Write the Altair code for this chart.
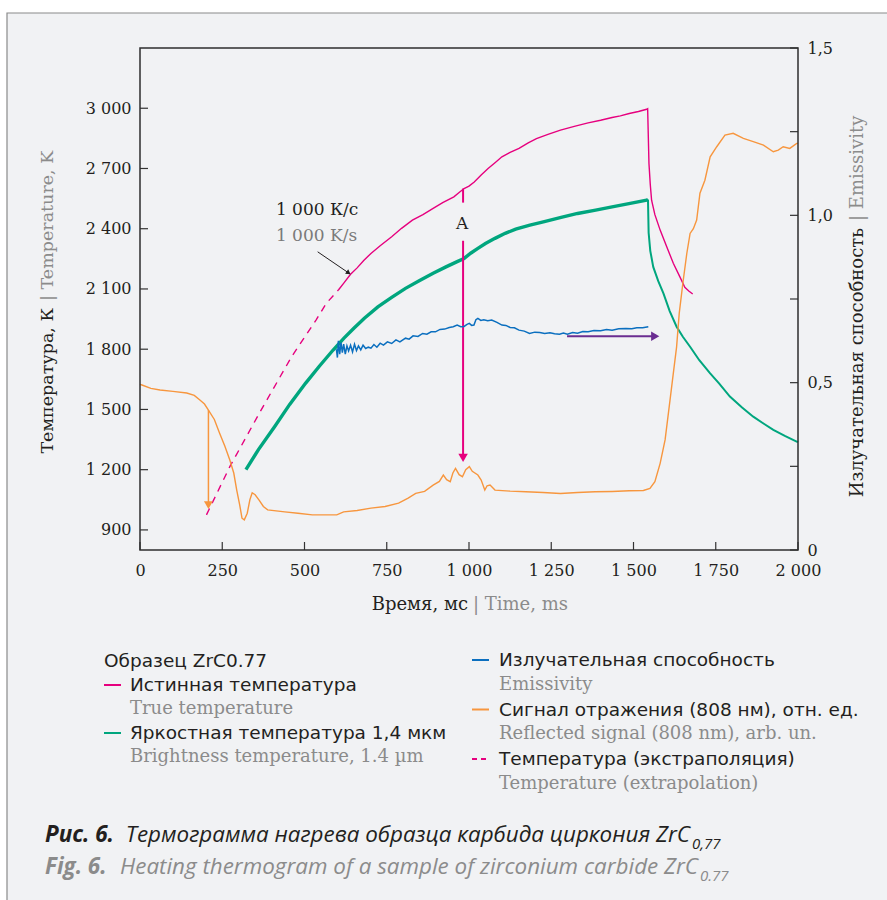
import altair as alt
import pandas as pd

# ---------------- values ----------------
X_TICKS = [0, 250, 500, 750, 1000, 1250, 1500, 1750, 2000]
YL_TICKS = [900, 1200, 1500, 1800, 2100, 2400, 2700, 3000]
YR_TICKS = [0, 0.25, 0.5, 0.75, 1.0, 1.25, 1.5]
YR_LABELED = [0, 0.5, 1.0, 1.5]

# true temperature (K) vs time (ms)
TRUE_TEMP = [(603, 2095), (620, 2130), (640, 2173), (660, 2205), (680, 2242), (702, 2277),
             (730, 2315), (765, 2360), (795, 2402), (828, 2443), (860, 2470), (891, 2501),
             (920, 2530), (954, 2559), (970, 2580), (985, 2600), (1000, 2612), (1016, 2633),
             (1037, 2668), (1058, 2700), (1080, 2730), (1100, 2758), (1125, 2780), (1152, 2800),
             (1180, 2828), (1205, 2849), (1240, 2870), (1278, 2891), (1320, 2910), (1362, 2927),
             (1400, 2940), (1435, 2954), (1460, 2962), (1487, 2974), (1515, 2984), (1540, 2995),
             (1543, 2998), (1545, 2860), (1547, 2725), (1551, 2620), (1555, 2542), (1565, 2470),
             (1581, 2393), (1601, 2310), (1621, 2228), (1641, 2160), (1656, 2108), (1668, 2090),
             (1680, 2075)]

# extrapolated temperature (dashed)
EXTRAP_TEMP = [(202, 975), (273, 1215), (368, 1497), (461, 1763), (535, 1945), (566, 2028), (603, 2095)]

# brightness temperature 1.4 um: heating part (thick, noisy) and cooling part
BRIGHT_RISE = [(322, 1200), (360, 1300), (409, 1414), (455, 1525), (503, 1630), (545, 1715),
               (587, 1796), (620, 1855), (650, 1904), (682, 1954), (723, 2011), (765, 2058),
               (807, 2103), (850, 2142), (891, 2178), (930, 2210), (964, 2236), (985, 2252),
               (1005, 2278), (1027, 2302), (1050, 2326), (1079, 2352), (1110, 2377), (1142, 2398),
               (1185, 2418), (1226, 2434), (1280, 2456), (1330, 2476), (1385, 2493), (1435, 2509),
               (1490, 2526), (1540, 2542), (1544, 2545)]
BRIGHT_DECAY = [(1544, 2545), (1546, 2380), (1551, 2290), (1560, 2210),
                (1575, 2140), (1591, 2078), (1610, 1990), (1631, 1912), (1650, 1862), (1672, 1812),
                (1700, 1745), (1733, 1680), (1760, 1630), (1793, 1564), (1830, 1510), (1864, 1464),
                (1895, 1430), (1925, 1398), (1960, 1368), (1996, 1340), (2000, 1337)]

# emissivity (right axis)
EMISSIVITY = [(597, 0.60), (600, 0.575), (603, 0.625), (607, 0.585), (611, 0.62), (615, 0.59),
              (619, 0.615), (624, 0.585), (629, 0.61), (634, 0.595), (640, 0.612), (646, 0.592),
              (652, 0.615), (658, 0.596), (664, 0.61), (671, 0.598), (678, 0.612), (686, 0.602),
              (694, 0.606), (702, 0.603), (711, 0.614), (720, 0.606), (730, 0.618), (740, 0.612),
              (752, 0.622), (765, 0.617), (778, 0.628), (790, 0.622), (807, 0.633), (818, 0.63),
              (830, 0.64), (845, 0.638), (859, 0.647), (872, 0.645), (885, 0.652), (898, 0.652),
              (912, 0.659), (926, 0.66), (940, 0.665), (952, 0.667), (964, 0.672), (975, 0.667),
              (985, 0.668), (994, 0.674), (1001, 0.677), (1008, 0.671), (1015, 0.672), (1021, 0.688),
              (1027, 0.692), (1036, 0.686), (1045, 0.688), (1057, 0.685), (1069, 0.687), (1085, 0.68),
              (1100, 0.672), (1112, 0.671), (1125, 0.665), (1138, 0.664), (1152, 0.657), (1168, 0.654),
              (1184, 0.647), (1200, 0.651), (1215, 0.65), (1230, 0.647), (1246, 0.649), (1260, 0.646),
              (1275, 0.645), (1287, 0.648), (1299, 0.645), (1315, 0.65), (1330, 0.648), (1346, 0.653),
              (1362, 0.652), (1380, 0.656), (1400, 0.655), (1418, 0.659), (1435, 0.657), (1455, 0.661),
              (1477, 0.662), (1495, 0.661), (1510, 0.664), (1528, 0.664), (1545, 0.667)]

# reflected signal 808 nm, arb. units (right axis scale)
REFLECTED = [(0, 0.495), (6, 0.493), (33, 0.483), (61, 0.478), (100, 0.474), (142, 0.469),
             (165, 0.462), (182, 0.448), (196, 0.436), (208, 0.418), (226, 0.39), (242, 0.349),
             (258, 0.31), (273, 0.269), (285, 0.23), (294, 0.179), (303, 0.135), (310, 0.095),
             (317, 0.09), (326, 0.11), (334, 0.15), (341, 0.171), (350, 0.165), (362, 0.149),
             (375, 0.13), (388, 0.12), (440, 0.114), (480, 0.11), (524, 0.105), (560, 0.105),
             (598, 0.105), (619, 0.114), (660, 0.118), (702, 0.125), (745, 0.13), (786, 0.14),
             (815, 0.155), (838, 0.169), (865, 0.175), (891, 0.194), (910, 0.205), (922, 0.224),
             (932, 0.21), (943, 0.204), (951, 0.23), (959, 0.244), (970, 0.225), (980, 0.219),
             (990, 0.24), (1001, 0.249), (1010, 0.235), (1027, 0.224), (1037, 0.209), (1048, 0.179),
             (1055, 0.192), (1064, 0.194), (1079, 0.179), (1125, 0.176), (1173, 0.174), (1225, 0.172),
             (1278, 0.169), (1330, 0.172), (1383, 0.174), (1435, 0.175), (1487, 0.177), (1530, 0.178),
             (1550, 0.184), (1565, 0.204), (1581, 0.259), (1596, 0.329), (1611, 0.448), (1621, 0.528),
             (1631, 0.607), (1639, 0.707), (1650, 0.797), (1662, 0.886), (1672, 0.946), (1682, 0.96),
             (1692, 0.986), (1702, 1.066), (1717, 1.105), (1733, 1.175), (1753, 1.205), (1778, 1.24),
             (1803, 1.245), (1834, 1.23), (1864, 1.22), (1895, 1.21), (1925, 1.19), (1940, 1.195),
             (1955, 1.205), (1975, 1.2), (1996, 1.215), (2000, 1.215)]

# annotation arrows (data coordinates)
ARROW_A_TIME = 982
ARROW_A_SEGMENTS = [(2600, 2530), (2340, 1259)]   # K, gap around the letter "A"
ARROW_A_HEAD = 1259
ORANGE_ARROW = (208, 0.418, 0.134)               # time, from, head
PURPLE_ARROW = (0.639, 1298, 1566)               # level, from time, head time
RATE_ARROW = (540, 2285, 634, 2180)              # t0, T0, t1, T1

TEXT_A = (979, 2423, "A")
RATE_LABELS = [(413, 2495, "1 000 К/с", "ink"), (413, 2365, "1 000 K/s", "grey")]

LEGEND_TITLE = "Образец ZrC0.77"
LEGEND_LEFT = [("Истинная температура", "True temperature", "pink", "solid"),
               ("Яркостная температура 1,4 мкм", "Brightness temperature, 1.4 µm", "green", "solid")]
LEGEND_RIGHT = [("Излучательная способность", "Emissivity", "blue", "solid"),
                ("Сигнал отражения (808 нм), отн. ед.", "Reflected signal (808 nm), arb. un.", "orange", "solid"),
                ("Температура (экстраполяция)", "Temperature (extrapolation)", "pink", "dash")]

X_TITLE = ("Время, мс", "| Time, ms")
YL_TITLE = ("Температура, К", "| Temperature, K")
YR_TITLE = ("Излучательная способность", "| Emissivity")
CAPTION_RU = ("Рис. 6.", "Термограмма нагрева образца карбида циркония ZrC", "0,77")
CAPTION_EN = ("Fig. 6.", "Heating thermogram of a sample of zirconium carbide ZrC", "0.77")

# ---------------- styling ----------------
SERIF = "DejaVu Serif"
SANS = "DejaVu Sans"
CAPF = "Open Sans"
INK = "#231f20"
GREY = "#8b8b8b"
COL = {"pink": "#e6007e", "green": "#00a67e", "blue": "#0b6fbf", "orange": "#f7963e",
       "purple": "#6a2d91", "ink": INK, "grey": GREY}

W, H = 658, 502
OX, OY = 140, 48


def px(x):
    return x - OX


def py(y):
    return y - OY


ONE = pd.DataFrame({"k": [0]})

x_scale = alt.Scale(domain=[0, 2000], nice=False, zero=False)
yl_scale = alt.Scale(domain=[800, 3300], nice=False, zero=False)
yr_scale = alt.Scale(domain=[0, 1.5], nice=False, zero=False)

common = dict(ticks=False, domain=False, grid=False, title=None, labelFont=SERIF,
              labelFontSize=16, labelColor=INK, zindex=1)
x_axis = alt.Axis(values=X_TICKS, labelExpr="replace(format(datum.value, ','), ',', ' ')",
                  labelPadding=12, labelFlush=False, labelOverlap=False, **common)
yl_axis = alt.Axis(values=YL_TICKS, labelExpr="replace(format(datum.value, ','), ',', ' ')",
                   labelPadding=9, orient="left", **common)
yr_axis = alt.Axis(values=YR_LABELED,
                   labelExpr="datum.value == 0 ? '0' : replace(format(datum.value, '.1f'), '.', ',')",
                   labelPadding=9, orient="right", **common)

X = alt.X("t:Q", scale=x_scale, axis=x_axis)
YL = alt.Y("v:Q", scale=yl_scale, axis=yl_axis)
YR = alt.Y("v:Q", scale=yr_scale, axis=yr_axis)


def frame(pairs):
    return pd.DataFrame(pairs, columns=["t", "v"])


# ---------------- left (temperature) layers ----------------
true_line = alt.Chart(frame(TRUE_TEMP)).mark_line(color=COL["pink"], strokeWidth=1.4).encode(x=X, y=YL)
extrap_line = alt.Chart(frame(EXTRAP_TEMP)).mark_line(
    color=COL["pink"], strokeWidth=1.4, strokeDash=[7, 6]).encode(x=X, y=YL)
bright_rise = alt.Chart(frame(BRIGHT_RISE)).mark_line(color=COL["green"], strokeWidth=3.4).encode(x=X, y=YL)
bright_decay = alt.Chart(frame(BRIGHT_DECAY)).mark_line(color=COL["green"], strokeWidth=2).encode(x=X, y=YL)

a_seg = pd.DataFrame([(ARROW_A_TIME, a, b) for a, b in ARROW_A_SEGMENTS], columns=["t", "v", "v2"])
a_rules = alt.Chart(a_seg).mark_rule(color=COL["pink"], strokeWidth=2).encode(x=X, y=YL, y2="v2:Q")
a_head = alt.Chart(frame([(ARROW_A_TIME, ARROW_A_HEAD)])).mark_point(
    shape="triangle-down", filled=True, size=90, color=COL["pink"], opacity=1).encode(x=X, y=YL)
a_text = alt.Chart(pd.DataFrame([TEXT_A], columns=["t", "v", "s"])).mark_text(
    font=SERIF, fontSize=17, color=INK).encode(x=X, y=YL, text="s:N")

rate_df = pd.DataFrame(RATE_LABELS, columns=["t", "v", "s", "c"])
rate_text = alt.Chart(rate_df).mark_text(font=SERIF, fontSize=17, align="left").encode(
    x=X, y=YL, text="s:N",
    color=alt.Color("c:N", scale=alt.Scale(domain=["ink", "grey"], range=[INK, "#7a7a7a"]), legend=None))
rate_arrow_df = pd.DataFrame([RATE_ARROW], columns=["t", "v", "t2", "v2"])
rate_rule = alt.Chart(rate_arrow_df).mark_rule(color=INK, strokeWidth=1).encode(x=X, y=YL, x2="t2:Q", y2="v2:Q")
rate_head = alt.Chart(frame([(RATE_ARROW[2], RATE_ARROW[3])])).mark_point(
    shape="triangle-right", filled=True, size=30, angle=35, color=INK, opacity=1).encode(x=X, y=YL)

left_ticks = alt.Chart(pd.DataFrame({"v": YL_TICKS})).mark_rule(color="#333", strokeWidth=1.2).encode(
    y=YL, x=alt.value(0), x2=alt.value(8))
bottom_ticks = alt.Chart(pd.DataFrame({"t": X_TICKS})).mark_rule(color="#333", strokeWidth=1.2).encode(
    x=X, y=alt.value(H - 8), y2=alt.value(H))

left = alt.layer(extrap_line, bright_rise, bright_decay, true_line, a_rules, a_head, a_text, rate_text,
                 rate_rule, rate_head, left_ticks, bottom_ticks)

# ---------------- right (emissivity scale) layers ----------------
refl_line = alt.Chart(frame(REFLECTED)).mark_line(color=COL["orange"], strokeWidth=1.4).encode(x=X, y=YR)
emis_line = alt.Chart(frame(EMISSIVITY)).mark_line(color=COL["blue"], strokeWidth=1.5).encode(x=X, y=YR)
o_rule = alt.Chart(pd.DataFrame([ORANGE_ARROW], columns=["t", "v", "v2"])).mark_rule(
    color=COL["orange"], strokeWidth=1.5).encode(x=X, y=YR, y2="v2:Q")
o_head = alt.Chart(frame([(ORANGE_ARROW[0], ORANGE_ARROW[2])])).mark_point(
    shape="triangle-down", filled=True, size=80, color=COL["orange"], opacity=1).encode(x=X, y=YR)
p_rule = alt.Chart(pd.DataFrame([(PURPLE_ARROW[1], PURPLE_ARROW[0], PURPLE_ARROW[2])],
                                columns=["t", "v", "t2"])).mark_rule(
    color=COL["purple"], strokeWidth=2).encode(x=X, y=YR, x2="t2:Q")
p_head = alt.Chart(frame([(PURPLE_ARROW[2], PURPLE_ARROW[0])])).mark_point(
    shape="triangle-right", filled=True, size=90, color=COL["purple"], opacity=1).encode(x=X, y=YR)
right_ticks = alt.Chart(pd.DataFrame({"v": YR_TICKS})).mark_rule(color="#333", strokeWidth=1.2).encode(
    y=YR, x=alt.value(W - 8), x2=alt.value(W))

right = alt.layer(refl_line, emis_line, o_rule, o_head, p_rule, p_head, right_ticks)


# ---------------- decorations: background, titles, legend, caption ----------------
def txt(text, x, y, size=16, color=INK, font=SANS, align="left", angle=0, weight="normal",
        style="normal", baseline="middle"):
    kw = dict(text=text, font=font, fontSize=size, color=color, align=align, baseline=baseline,
              fontWeight=weight, fontStyle=style)
    if angle:
        kw["angle"] = angle
    return alt.Chart(ONE).mark_text(**kw).encode(x=alt.value(px(x)), y=alt.value(py(y)))


def seg(x0, x1, y, color, dash=False):
    kw = dict(color=color, strokeWidth=2)
    if dash:
        kw["strokeDash"] = [5, 4]
    return alt.Chart(ONE).mark_rule(**kw).encode(x=alt.value(px(x0)), x2=alt.value(px(x1)), y=alt.value(py(y)))


bg = alt.Chart(ONE).mark_rect(fill="#f1f2f4", stroke="#8a8a8a", strokeWidth=1.2).encode(
    x=alt.value(px(7)), x2=alt.value(px(900)), y=alt.value(py(13)), y2=alt.value(py(915)))
plot_frame = alt.Chart(ONE).mark_rect(fillOpacity=0, stroke="#2e2e2e", strokeWidth=1.5).encode(
    x=alt.value(0), x2=alt.value(W), y=alt.value(0), y2=alt.value(H))

deco = []
# axis titles
deco.append(txt(X_TITLE[0], 468, 605, size=18, font=SERIF, align="right"))
deco.append(txt(X_TITLE[1], 473, 605, size=18, font=SERIF, color=GREY))
deco.append(txt(YL_TITLE[0], 48, 308, size=17.5, font=SERIF, align="right", angle=270))
deco.append(txt(YL_TITLE[1], 48, 301, size=17.5, font=SERIF, color=GREY, angle=270))
deco.append(txt(YR_TITLE[0], 858, 228, size=18, font=SERIF, align="right", angle=270))
deco.append(txt(YR_TITLE[1], 858, 221, size=18, font=SERIF, color=GREY, angle=270))

# legend
deco.append(txt(LEGEND_TITLE, 104, 661, size=18.5))
for i, (ru, en, c, st) in enumerate(LEGEND_LEFT):
    yy = 685 + 48 * i
    deco.append(seg(104, 121, yy, COL[c], st == "dash"))
    deco.append(txt(ru, 130, yy, size=18.5))
    deco.append(txt(en, 130, yy + 24, size=18, font=SERIF, color=GREY))
for i, (ru, en, c, st) in enumerate(LEGEND_RIGHT):
    yy = 660 + 49.5 * i
    deco.append(seg(472, 489, yy, COL[c], st == "dash"))
    deco.append(txt(ru, 499, yy, size=18.5))
    deco.append(txt(en, 499, yy + 24.5, size=18, font=SERIF, color=GREY))

# caption
deco.append(txt(CAPTION_RU[0], 45, 835, size=22.4, font=CAPF, weight="bold", style="italic"))
deco.append(txt(CAPTION_RU[1], 690, 835, size=22.4, font=CAPF, style="italic", align="right"))
deco.append(txt(CAPTION_RU[2], 692, 844, size=15, font=CAPF, style="italic"))
deco.append(txt(CAPTION_EN[0], 45, 867, size=22.4, font=CAPF, weight="bold", style="italic", color=GREY))
deco.append(txt(CAPTION_EN[1], 698, 867, size=22.4, font=CAPF, style="italic", color=GREY, align="right"))
deco.append(txt(CAPTION_EN[2], 700, 876, size=15, font=CAPF, style="italic", color=GREY))

chart = alt.layer(bg, left, right, *deco, plot_frame).resolve_scale(
    y="independent", color="independent"
).properties(
    width=W, height=H,
    padding={"left": OX, "top": OY, "right": 887 - OX - W, "bottom": 900 - OY - H},
    autosize=alt.AutoSizeParams(type="none"),
    background="white",
).configure_view(strokeWidth=0)

chart.save("out.html", embed_options={"renderer": "svg", "actions": False})
